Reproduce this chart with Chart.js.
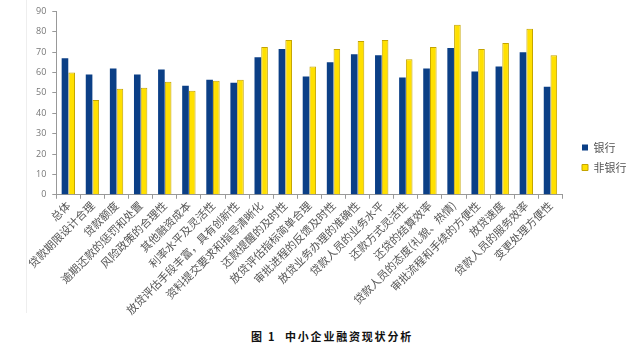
<!DOCTYPE html>
<html>
<head>
<meta charset="utf-8">
<script src="https://cdn.jsdelivr.net/npm/chart.js@4/dist/chart.umd.min.js"></script>
<style>
  html, body { margin: 0; padding: 0; background: #fff; }
  body { width: 642px; height: 357px; position: relative; overflow: hidden; }
  #wrap { position: absolute; left: 0; top: 0; width: 642px; height: 317px; }
  #frame { position: absolute; left: 26px; top: 0; width: 1px; height: 313px; background: #eeeeee; }
  #caption { position: absolute; left: 11px; width: 642px; top: 328px; text-align: center;
    font-family: "Noto Sans CJK SC", sans-serif; font-weight: bold; font-size: 11px;
    letter-spacing: 1.8px; color: #111; }
</style>
</head>
<body>
<div id="frame"></div>
<div id="wrap"><canvas id="c" width="642" height="317"></canvas></div>
<div id="caption">图 1&nbsp;&nbsp;中小企业融资现状分析</div>
<script>
const categories = [
  "总体", "贷款期限设计合理", "贷款额度", "逾期还款的惩罚和处置", "风险政策的合理性",
  "其他融资成本", "利率水平及灵活性", "放贷评估手段丰富，具有创新性", "资料提交要求和指导清晰化",
  "还款提醒的及时性", "放贷评估指标简单合理", "审批进程的反馈及时性", "放贷业务办理的准确性",
  "贷款人员的业务水平", "还款方式灵活性", "还贷的结算效率", "贷款人员的态度(礼貌、热情)",
  "审批流程和手续的方便性", "放贷速度", "贷款人员的服务效率", "变更处理方便性"
];
const seriesNames = ["银行", "非银行"];
const bankValues = [67, 59, 62, 59, 61.5, 53.5, 56.5, 55, 67.5, 71.5, 58, 65, 69, 68.5, 57.5, 62, 72, 60.5, 63, 70, 53];
const nonBankValues = [60, 46.5, 52, 52.5, 55.5, 51, 56, 56.5, 72.5, 76, 63, 71.5, 75.5, 76, 66.5, 72.5, 83.5, 71.5, 74.5, 81.5, 68.5];
const yTicks = [0, 10, 20, 30, 40, 50, 60, 70, 80, 90];

const legendShift = {
  id: 'legendShift',
  afterUpdate(chart) {
    const lg = chart.legend;
    if (!lg) return;
    const dy = 133 - lg.top;
    const dx = 573 - lg.left;
    lg.top += dy; lg.bottom += dy;
    lg.left += dx; lg.right += dx;
  }
};

new Chart(document.getElementById('c'), {
  type: 'bar',
  data: {
    labels: categories,
    datasets: [
      { label: seriesNames[0], data: bankValues, backgroundColor: '#0B3F86', borderColor: '#0B3F86', borderWidth: 0 },
      { label: seriesNames[1], data: nonBankValues, backgroundColor: '#FFE000', borderColor: '#C4A400', borderWidth: 1 }
    ]
  },
  options: {
    responsive: false,
    animation: false,
    devicePixelRatio: 1,
    layout: { padding: { left: 30, right: 16, top: 3, bottom: 0 } },
    datasets: { bar: { categoryPercentage: 0.56, barPercentage: 0.98 } },
    plugins: {
      legend: {
        position: 'right',
        align: 'start',
        labels: {
          boxWidth: 6, boxHeight: 6, padding: 9,
          color: '#555',
          font: { family: '"Noto Sans CJK SC", sans-serif', size: 11 }
        }
      },
      tooltip: { enabled: false },
      title: { display: false }
    },
    scales: {
      x: {
        grid: { display: true, drawOnChartArea: false, drawTicks: true, tickLength: 4, color: '#999' },
        border: { display: true, color: '#999' },
        ticks: {
          autoSkip: false, minRotation: 45, maxRotation: 45, padding: 0,
          color: '#555',
          font: { family: '"Noto Sans CJK SC", sans-serif', size: 11 }
        }
      },
      y: {
        min: 0, max: 90,
        afterBuildTicks(axis) { axis.ticks = yTicks.map(v => ({ value: v })); },
        grid: { display: true, drawOnChartArea: false, drawTicks: true, tickLength: 4, color: '#999' },
        border: { display: true, color: '#999' },
        ticks: {
          padding: 6, color: '#777',
          font: { family: '"Open Sans", sans-serif', size: 9 }
        }
      }
    }
  },
  plugins: [legendShift]
});
</script>
</body>
</html>
